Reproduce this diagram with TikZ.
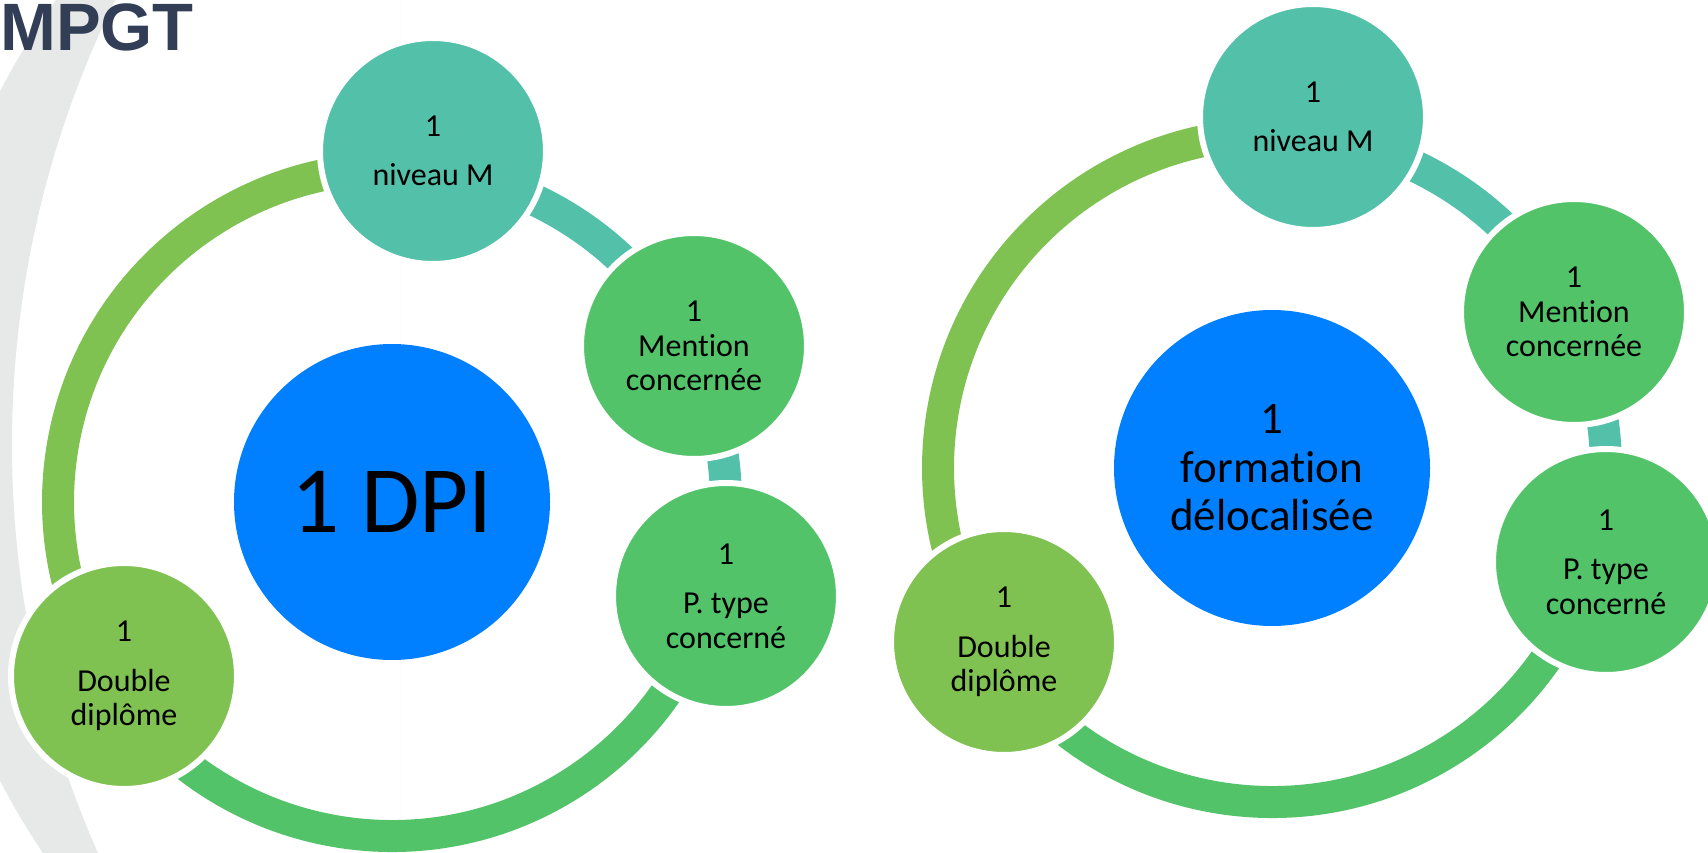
\documentclass[tikz,border=0pt]{standalone}
\usepackage{fontspec}
\setmainfont{Carlito}[Ligatures={NoCommon}]
\newfontfamily\titlefont{Liberation Sans}
\definecolor{cTeal}{RGB}{83,193,170}
\definecolor{cGreen}{RGB}{83,195,106}
\definecolor{cLight}{RGB}{128,194,82}
\definecolor{cBlue}{RGB}{0,128,255}
\definecolor{cGray}{RGB}{231,232,232}
\definecolor{cNavy}{RGB}{50,62,85}
\newcommand{\cyclediagram}[5]{%
\begin{scope}[shift={(#2,#3)}]
  \coordinate (#1c) at (392,350);
  \draw[ring, cTeal]  (#1c) ++(-15.7:334) arc[start angle=-15.7, end angle=83.3, radius=334];
  \draw[ring, cLight] (#1c) ++(83.3:334) arc[start angle=83.3, end angle=213, radius=334];
  \draw[ring, cGreen] (#1c) ++(213:334) arc[start angle=213, end angle=344.3, radius=334];
  \node[hub, font=#4] (#1hub) at (#1c) {#5};
  \node[bubble, fill=cTeal]  (#1niv) at (433,701) {1\\[15pt]niveau M};
  \node[bubble, fill=cGreen] (#1men) at (694,506) {1\\Mention\\concernée};
  \node[bubble, fill=cGreen] (#1pty) at (726,256) {1\\[15pt]P. type\\concerné};
  \node[bubble, fill=cLight] (#1dbl) at (124,176) {1\\[15pt]Double\\diplôme};
\end{scope}}
\begin{document}
\begin{tikzpicture}[x=1pt,y=1pt,
  bubble/.style={circle, minimum size=226pt, inner sep=0pt, draw=white, line width=6pt,
    align=center, font=\fontsize{32}{34.5}\selectfont, text=black},
  hub/.style={circle, minimum size=316pt, inner sep=0pt, fill=cBlue, align=center, text=black},
  ring/.style={line width=32pt}]
\useasboundingbox (0,0) rectangle (1708,852);
\clip (0,0) rectangle (1708,852);
% grey decorative crescent
\begin{scope}
  \clip (664,416) circle (748);
  \clip (-300,-400) rectangle (400,1300);
  \fill[cGray, even odd rule] (-300,-400) rectangle (400,1300) (1020,407) circle (1008);
\end{scope}
\node[anchor=base west, inner sep=0pt, text=cNavy,
  font=\titlefont\bfseries\fontsize{67}{80}\selectfont] (title) at (0,801) {MPGT};
\cyclediagram{L}{0}{0}{\fontsize{95}{110}\selectfont}{1 DPI}
\cyclediagram{R}{880}{34}{\fontsize{45}{48.5}\selectfont}{1\\formation\\délocalisée}
\end{tikzpicture}
\end{document}
